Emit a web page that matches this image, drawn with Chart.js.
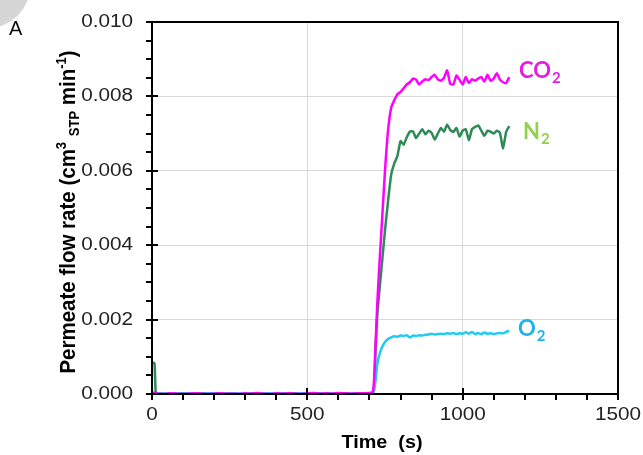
<!DOCTYPE html>
<html>
<head>
<meta charset="utf-8">
<script src="https://cdn.jsdelivr.net/npm/chart.js@4"></script>
<style>
  html, body { margin: 0; padding: 0; background: #fff; }
  #wrap { width: 643px; height: 455px; position: relative; }
</style>
</head>
<body>
<div id="wrap"><canvas id="flowChart"></canvas></div>
<script>
// time points (s)
const times = [
  0, 8, 12, 20, 40, 60, 80, 100, 120, 140, 160, 180, 200, 220, 240, 260, 280, 300, 320,
  340, 360, 380, 400, 420, 440, 460, 480, 500, 520, 540, 560, 580, 600, 620, 640, 660, 680, 700,
  710, 715, 720, 725, 730, 740, 750, 760, 770, 780, 790, 800,
  810, 820, 830, 840, 850, 860, 870, 880, 890, 900, 910, 920, 930, 940, 950, 960, 970, 980, 990, 1000,
  1010, 1020, 1030, 1040, 1050, 1060, 1070, 1080, 1090, 1100, 1110, 1120, 1130, 1140, 1150
];

// permeate flow rate (cm3 STP / min)
const co2Flow = [
  0.00004, 0.00003, 0.00002, 0.00001, 0.00000, 0.00002, 0.00001, 0.00000, 0.00001, 0.00002, 0.00001,
  0.00000, 0.00001, 0.00002, 0.00001, 0.00001, 0.00000, 0.00002, 0.00001, 0.00003, 0.00001, 0.00000,
  0.00002, 0.00001, 0.00002, 0.00001, 0.00000, 0.00002, 0.00003, 0.00001, 0.00002, 0.00001, 0.00003,
  0.00002, 0.00001, 0.00002, 0.00002, 0.00003,
  0.00004, 0.0004, 0.0014, 0.0024, 0.0032, 0.0046, 0.0060, 0.0071, 0.0077, 0.0079, 0.00806, 0.00812,
  0.00822, 0.00832, 0.00838, 0.00848, 0.00845, 0.00832, 0.00840, 0.00846, 0.00844, 0.00852,
  0.00858, 0.00846, 0.00842, 0.00850, 0.00870, 0.00834, 0.00832, 0.00856, 0.00845, 0.00832,
  0.00852, 0.00836, 0.00846, 0.00842, 0.00848, 0.00852, 0.00840, 0.00858, 0.00842, 0.00848,
  0.00862, 0.00845, 0.00838, 0.00836, 0.00852
];

const n2Flow = [
  0.00085, 0.00083, 0.00004, 0.00002, 0.00001, 0.00002, 0.00001, 0.00002, 0.00001, 0.00001, 0.00002,
  0.00001, 0.00002, 0.00001, 0.00001, 0.00002, 0.00001, 0.00001, 0.00002, 0.00001, 0.00002, 0.00001,
  0.00001, 0.00002, 0.00001, 0.00002, 0.00001, 0.00001, 0.00002, 0.00001, 0.00002, 0.00001, 0.00001,
  0.00002, 0.00001, 0.00002, 0.00001, 0.00002,
  0.00002, 0.0002, 0.0013, 0.0021, 0.0026, 0.0035, 0.0044, 0.0052, 0.0059, 0.0062, 0.0064, 0.0068,
  0.00670, 0.00690, 0.00705, 0.00706, 0.00688, 0.00700, 0.00712, 0.00698, 0.00708, 0.00702,
  0.00684, 0.00700, 0.00715, 0.00705, 0.00724, 0.00710, 0.00704, 0.00715, 0.00692, 0.00708,
  0.00712, 0.00682, 0.00712, 0.00718, 0.00722, 0.00708, 0.00694, 0.00708, 0.00705, 0.00700,
  0.00708, 0.00702, 0.00660, 0.00705, 0.00720
];

const o2Flow = [
  0.00003, 0.00003, 0.00002, 0.00002, 0.00001, 0.00002, 0.00002, 0.00001, 0.00002, 0.00002, 0.00001,
  0.00002, 0.00002, 0.00001, 0.00002, 0.00002, 0.00001, 0.00002, 0.00002, 0.00001, 0.00002, 0.00002,
  0.00001, 0.00002, 0.00002, 0.00001, 0.00002, 0.00002, 0.00001, 0.00002, 0.00002, 0.00001, 0.00002,
  0.00002, 0.00001, 0.00002, 0.00002, 0.00002,
  0.00002, 0.0001, 0.0004, 0.0008, 0.0010, 0.00125, 0.00140, 0.00148, 0.00152, 0.00155, 0.00154, 0.00157,
  0.00156, 0.00158, 0.00152, 0.00157, 0.00156, 0.00158, 0.00157, 0.00159, 0.00160, 0.00162,
  0.00160, 0.00161, 0.00162, 0.00161, 0.00163, 0.00162, 0.00164, 0.00161, 0.00163, 0.00162,
  0.00166, 0.00162, 0.00167, 0.00161, 0.00164, 0.00161, 0.00165, 0.00162, 0.00163, 0.00161,
  0.00163, 0.00164, 0.00163, 0.00167, 0.00170
];

const xMajor = [0, 500, 1000, 1500];
const yMajor = [0, 0.002, 0.004, 0.006, 0.008, 0.010];

const toPoints = vals => times.map((t, i) => ({ x: t, y: vals[i] }));

const SANS = '"Liberation Sans", Arial, sans-serif';
const STRETCH = 1.15; // text in this figure runs a little wide

// draws text widened by STRETCH around its anchor
function wideText(ctx, text, x, y, align) {
  ctx.save();
  ctx.translate(x, y);
  ctx.scale(STRETCH, 1);
  ctx.textAlign = align;
  ctx.fillText(text, 0, 0);
  ctx.restore();
}

// black box, crossing major ticks, outward minor ticks, tick labels, titles and gas labels
const decorations = {
  id: 'decorations',
  afterDraw(chart) {
    const { ctx, chartArea: a, scales } = chart;
    const xs = scales.x, ys = scales.y;
    ctx.save();

    ctx.strokeStyle = '#000';
    ctx.lineWidth = 2;
    ctx.strokeRect(a.left, a.top, a.right - a.left, a.bottom - a.top);

    ctx.beginPath();
    for (let v = 0; v <= 1500; v += 100) {
      const px = Math.round(xs.getPixelForValue(v));
      const major = v % 500 === 0;
      ctx.moveTo(px, major ? a.bottom - 6 : a.bottom);
      ctx.lineTo(px, a.bottom + 6);
    }
    for (let k = 0; k <= 20; k++) {
      const py = Math.round(ys.getPixelForValue(k * 0.0005));
      const major = k % 4 === 0;
      ctx.moveTo(a.left - 6, py);
      ctx.lineTo(major ? a.left + 6 : a.left, py);
    }
    ctx.stroke();

    // tick labels
    ctx.fillStyle = '#222';
    ctx.font = '18px ' + SANS;
    ctx.textBaseline = 'middle';
    yMajor.forEach(v => wideText(ctx, v.toFixed(3), a.left - 19, ys.getPixelForValue(v), 'right'));
    ctx.textBaseline = 'top';
    xMajor.forEach(v => wideText(ctx, String(v), xs.getPixelForValue(v), a.bottom + 12, 'center'));

    // x title
    ctx.fillStyle = '#000';
    ctx.font = 'bold 18px ' + SANS;
    ctx.textBaseline = 'alphabetic';
    ctx.save();
    ctx.translate(382, 448);
    ctx.scale(1.1, 1);
    ctx.textAlign = 'center';
    ctx.fillText('Time  (s)', 0, 0);
    ctx.restore();

    // y title with super/subscripts
    const parts = [
      { t: 'Permeate flow rate (cm', k: 0 },
      { t: '3', k: 1 },
      { t: ' ', k: 0 },
      { t: 'STP', k: -1 },
      { t: ' min', k: 0 },
      { t: '-1', k: 1 },
      { t: ')', k: 0 }
    ];
    const big = 'bold 20.5px ' + SANS;
    const small = 'bold 13px ' + SANS;
    let total = 0;
    parts.forEach(p => { ctx.font = p.k ? small : big; p.w = ctx.measureText(p.t).width; total += p.w; });
    ctx.save();
    ctx.translate(75, 212);
    ctx.rotate(-Math.PI / 2);
    ctx.scale(1, 1.12);
    ctx.textAlign = 'left';
    let cx = -total / 2;
    parts.forEach(p => {
      ctx.font = p.k ? small : big;
      const dy = p.k === 1 ? -8 : p.k === -1 ? 4 : 0;
      ctx.fillText(p.t, cx, dy);
      cx += p.w;
    });
    ctx.restore();

    // gas labels
    const gas = (main, sub, x, y, color) => {
      ctx.fillStyle = color;
      ctx.font = 'bold 22px Lato, "Open Sans", sans-serif';
      ctx.textAlign = 'left';
      ctx.fillText(main, x, y);
      const w = ctx.measureText(main).width;
      ctx.font = 'bold 15px Lato, "Open Sans", sans-serif';
      ctx.fillText(sub, x + w + 1, y + 5);
    };
    gas('CO', '2', 519, 78, '#e61ce0');
    gas('N', '2', 523, 139, '#92d050');
    gas('O', '2', 518, 336, '#1cb4ec');

    // panel tag
    ctx.fillStyle = '#d6d6d6';
    ctx.beginPath();
    ctx.arc(-12, -14, 42, 0, Math.PI * 2);
    ctx.fill();
    ctx.fillStyle = '#111';
    ctx.font = '20px ' + SANS;
    ctx.textAlign = 'left';
    ctx.fillText('A', 9, 35);

    ctx.restore();
  }
};

const lineDs = (label, vals, color) => ({
  label,
  data: toPoints(vals),
  borderColor: color,
  borderWidth: 2.5,
  pointRadius: 0,
  tension: 0.15,
  fill: false
});

new Chart(document.getElementById('flowChart'), {
  type: 'line',
  data: {
    datasets: [
      lineDs('CO2', co2Flow, '#ff00ff'),
      lineDs('O2', o2Flow, '#1ecbf5'),
      lineDs('N2', n2Flow, '#2e8b57')
    ]
  },
  options: {
    responsive: true,
    maintainAspectRatio: false,
    animation: false,
    events: [],
    layout: { padding: { top: 22, right: 25, left: 0, bottom: 0 } },
    plugins: { legend: { display: false }, tooltip: { enabled: false } },
    scales: {
      x: {
        type: 'linear',
        min: 0,
        max: 1500,
        afterFit: s => { s.height = 61; },
        afterBuildTicks: s => { s.ticks = xMajor.map(v => ({ value: v })); },
        grid: { color: '#d9d9d9', lineWidth: 1, drawTicks: false },
        border: { display: false },
        ticks: { display: false }
      },
      y: {
        type: 'linear',
        min: 0,
        max: 0.01,
        afterFit: s => { s.width = 152; },
        afterBuildTicks: s => { s.ticks = yMajor.map(v => ({ value: v })); },
        grid: { color: '#d9d9d9', lineWidth: 1, drawTicks: false },
        border: { display: false },
        ticks: { display: false }
      }
    }
  },
  plugins: [decorations]
});
</script>
</body>
</html>
